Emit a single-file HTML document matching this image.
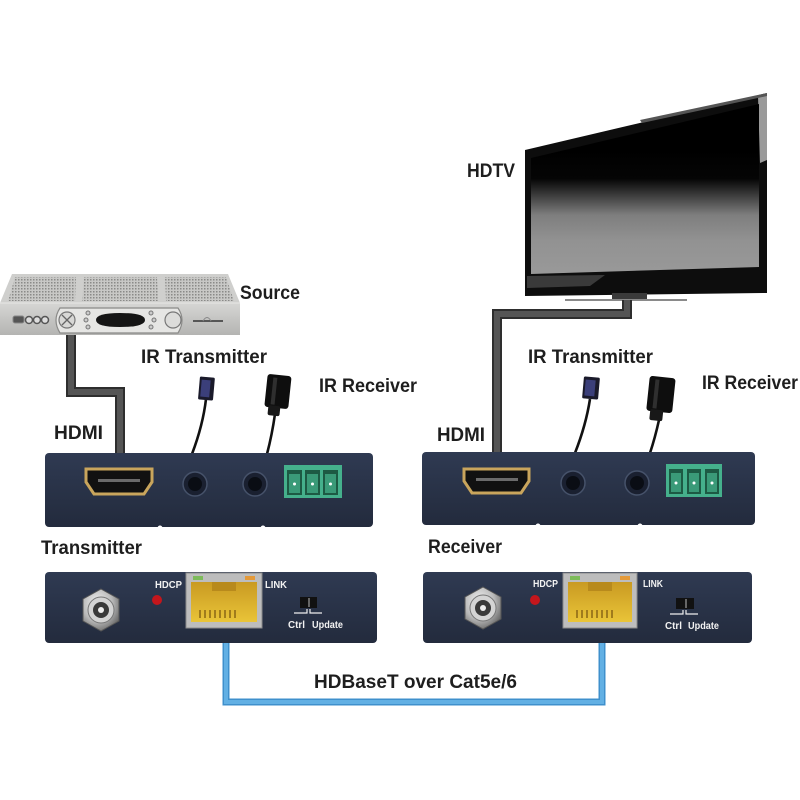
<!DOCTYPE html>
<html><head><meta charset="utf-8"><style>
html,body{margin:0;padding:0;background:#fff;}
svg{display:block;}
.lb{font-family:"Liberation Sans",sans-serif;font-weight:bold;fill:#1e1e1e;font-size:19px;}
.sm{font-family:"Liberation Sans",sans-serif;font-weight:bold;fill:#f2f2f2;font-size:10px;}
</style></head><body>
<svg width="800" height="800" viewBox="0 0 800 800" xmlns="http://www.w3.org/2000/svg">
<defs>
 <linearGradient id="scr" x1="0" y1="150" x2="0" y2="280" gradientUnits="userSpaceOnUse">
  <stop offset="0" stop-color="#000"/>
  <stop offset="0.22" stop-color="#050505"/>
  <stop offset="0.5" stop-color="#7e7e7e"/>
  <stop offset="0.7" stop-color="#929292"/>
  <stop offset="1" stop-color="#9a9a9a"/>
 </linearGradient>
 <linearGradient id="dev" x1="0" y1="0" x2="0" y2="1">
  <stop offset="0" stop-color="#2f3a52"/>
  <stop offset="1" stop-color="#232b3d"/>
 </linearGradient>
 <linearGradient id="front" x1="0" y1="0" x2="0" y2="1">
  <stop offset="0" stop-color="#d6d6d4"/>
  <stop offset="1" stop-color="#b4b4b2"/>
 </linearGradient>
 <linearGradient id="yel" x1="0" y1="0" x2="0" y2="1">
  <stop offset="0" stop-color="#c99a22"/>
  <stop offset="1" stop-color="#e9c438"/>
 </linearGradient>
 <radialGradient id="silver" cx="0.4" cy="0.35" r="0.7">
  <stop offset="0" stop-color="#f4f4f4"/>
  <stop offset="0.6" stop-color="#b8b8b8"/>
  <stop offset="1" stop-color="#6a6a6a"/>
 </radialGradient>
 <pattern id="vent" width="3" height="3" patternUnits="userSpaceOnUse">
  <rect width="3" height="3" fill="#c8c8c6"/>
  <rect width="1.5" height="1.5" fill="#8a8a88"/>
 </pattern>
</defs>

<!-- ===== SOURCE BOX ===== -->
<polygon points="12,274 228,274 240,303 0,303" fill="#cfcfcd"/>
<polygon points="15,277 76,277 75,301 8,301" fill="url(#vent)"/>
<polygon points="84,277 157,277 158,301 82,301" fill="url(#vent)"/>
<polygon points="165,277 226,277 234,301 166,301" fill="url(#vent)"/>
<rect x="0" y="303" width="240" height="32" fill="url(#front)"/>
<line x1="0" y1="303" x2="240" y2="303" stroke="#e8e8e6" stroke-width="1"/>
<rect x="13" y="316" width="11" height="7" rx="2" fill="#555" stroke="#888"/>
<circle cx="29" cy="320" r="3.5" fill="#ddd" stroke="#555" stroke-width="1.5"/>
<circle cx="37" cy="320" r="3.5" fill="#ddd" stroke="#555" stroke-width="1.5"/>
<circle cx="45" cy="320" r="3.5" fill="#ddd" stroke="#555" stroke-width="1.5"/>
<path d="M60,308 H178 Q186,320 178,333 H60 Q52,320 60,308 Z" fill="#e6e6e4" stroke="#8a8a88" stroke-width="1.2"/>
<circle cx="67" cy="320" r="8" fill="#d8d8d6" stroke="#777" stroke-width="1.2"/>
<path d="M62,315 L72,325 M72,315 L62,325" stroke="#666" stroke-width="1.3"/>
<path d="M96,320 Q96,313 120,313 Q145,313 145,320 Q145,327 120,327 Q96,327 96,320 Z" fill="#151515"/>
<circle cx="88" cy="313" r="2" fill="#ccc" stroke="#777"/>
<circle cx="86" cy="320" r="2" fill="#ccc" stroke="#777"/>
<circle cx="88" cy="327" r="2" fill="#ccc" stroke="#777"/>
<circle cx="151" cy="313" r="2" fill="#ccc" stroke="#777"/>
<circle cx="154" cy="320" r="2" fill="#ccc" stroke="#777"/>
<circle cx="151" cy="327" r="2" fill="#ccc" stroke="#777"/>
<circle cx="173" cy="320" r="8" fill="#dcdcda" stroke="#777" stroke-width="1.2"/>
<line x1="193" y1="321" x2="223" y2="321" stroke="#333" stroke-width="1.5"/>
<path d="M203,321 Q207,314 211,321" fill="none" stroke="#888" stroke-width="1"/>

<!-- ===== TV ===== -->
<polygon points="525,150 767,93 767,293 525,296" fill="#0d0d0d"/>
<polygon points="758,96 767,93 767,160 760,163" fill="#9a9a9a"/>
<polygon points="640,120 767,93 767,96 642,123" fill="#555"/>
<polygon points="531,158 759,104 759,267 531,274" fill="url(#scr)"/>
<polygon points="527,276 605,275 590,286 527,288" fill="#3a3a3a"/>
<rect x="612" y="293" width="35" height="7" fill="#3a3a3a"/>
<rect x="565" y="299" width="122" height="2" fill="#8a8a8a"/>

<!-- ===== HDMI CABLES ===== -->
<path d="M71,335 V392 H120 V454" fill="none" stroke="#2e2e2e" stroke-width="10"/>
<path d="M71,335 V392 H120 V454" fill="none" stroke="#555" stroke-width="6"/>
<path d="M627,300 V314 H497 V453" fill="none" stroke="#2e2e2e" stroke-width="10"/>
<path d="M627,300 V314 H497 V453" fill="none" stroke="#555" stroke-width="6"/>

<!-- ===== BLUE CABLE ===== -->
<path d="M226,643 V702 H602 V643" fill="none" stroke="#3f90cc" stroke-width="7"/>
<path d="M226,643 V702 H602 V643" fill="none" stroke="#62b0e4" stroke-width="4"/>

<!-- ===== IR DEVICES (left) ===== -->
<path d="M206,399 Q203,425 192,454" fill="none" stroke="#111" stroke-width="2.6"/>
<rect x="199" y="377" width="15" height="23" rx="1.5" fill="#1a1a2a" transform="rotate(5 206 388)"/>
<rect x="201" y="380" width="9" height="17" fill="#3b3f7a" transform="rotate(5 206 388)"/>
<path d="M275,414 Q272,435 267,454" fill="none" stroke="#111" stroke-width="2.6"/>
<rect x="266" y="375" width="24" height="33" rx="3" fill="#0e0e0e" transform="rotate(6 278 391)"/>
<rect x="272" y="378" width="4" height="27" fill="#2f2f2f" transform="rotate(6 278 391)"/>
<rect x="270" y="406" width="12" height="10" rx="2" fill="#181818" transform="rotate(6 278 391)"/>

<!-- ===== IR DEVICES (right) ===== -->
<path d="M590,399 Q586,425 575,453" fill="none" stroke="#111" stroke-width="2.6"/>
<rect x="583" y="377" width="16" height="22" rx="1.5" fill="#1a1a2a" transform="rotate(5 591 388)"/>
<rect x="585" y="380" width="10" height="16" fill="#3b3f7a" transform="rotate(5 591 388)"/>
<path d="M659,420 Q655,438 650,453" fill="none" stroke="#111" stroke-width="2.6"/>
<rect x="648" y="377" width="26" height="35" rx="3" fill="#0e0e0e" transform="rotate(6 661 394)"/>
<rect x="654" y="380" width="4" height="29" fill="#2f2f2f" transform="rotate(6 661 394)"/>
<rect x="652" y="410" width="13" height="11" rx="2" fill="#181818" transform="rotate(6 661 394)"/>

<!-- ===== TRANSMITTER TOP UNIT ===== -->
<rect x="45" y="453" width="328" height="74" rx="4" fill="url(#dev)"/>
<circle cx="160" cy="528" r="2.5" fill="#fff"/>
<circle cx="263" cy="528" r="2.5" fill="#fff"/>
<path d="M86,469 H152 V482 L144,494 H94 L86,482 Z" fill="#111" stroke="#c9a55c" stroke-width="3"/>
<rect x="98" y="479" width="42" height="3" fill="#6b6b6b"/>
<circle cx="195" cy="484" r="12" fill="#1a2030" stroke="#46526a" stroke-width="1.5"/>
<circle cx="195" cy="484" r="7" fill="#0a0d14"/>
<circle cx="255" cy="484" r="12" fill="#1a2030" stroke="#46526a" stroke-width="1.5"/>
<circle cx="255" cy="484" r="7" fill="#0a0d14"/>
<g>
 <rect x="284" y="465" width="58" height="33" fill="#45b08c"/>
 <rect x="287" y="470" width="15" height="25" fill="#1d5a44"/>
 <rect x="289" y="474" width="11" height="19" fill="#3a9a78"/>
 <circle cx="294.5" cy="484" r="1.5" fill="#fff"/>
 <rect x="305" y="470" width="15" height="25" fill="#1d5a44"/>
 <rect x="307" y="474" width="11" height="19" fill="#3a9a78"/>
 <circle cx="312.5" cy="484" r="1.5" fill="#fff"/>
 <rect x="323" y="470" width="15" height="25" fill="#1d5a44"/>
 <rect x="325" y="474" width="11" height="19" fill="#3a9a78"/>
 <circle cx="330.5" cy="484" r="1.5" fill="#fff"/>
</g>

<!-- ===== RECEIVER TOP UNIT ===== -->
<rect x="422" y="452" width="333" height="73" rx="4" fill="url(#dev)"/>
<circle cx="538" cy="526" r="2.5" fill="#fff"/>
<circle cx="640" cy="526" r="2.5" fill="#fff"/>
<path d="M464,469 H529 V481 L521,493 H472 L464,481 Z" fill="#111" stroke="#c9a55c" stroke-width="3"/>
<rect x="476" y="478" width="42" height="3" fill="#6b6b6b"/>
<circle cx="573" cy="483" r="12" fill="#1a2030" stroke="#46526a" stroke-width="1.5"/>
<circle cx="573" cy="483" r="7" fill="#0a0d14"/>
<circle cx="637" cy="483" r="12" fill="#1a2030" stroke="#46526a" stroke-width="1.5"/>
<circle cx="637" cy="483" r="7" fill="#0a0d14"/>
<g>
 <rect x="666" y="464" width="56" height="33" fill="#45b08c"/>
 <rect x="669" y="469" width="14" height="25" fill="#1d5a44"/>
 <rect x="671" y="473" width="10" height="19" fill="#3a9a78"/>
 <circle cx="676" cy="483" r="1.5" fill="#fff"/>
 <rect x="687" y="469" width="14" height="25" fill="#1d5a44"/>
 <rect x="689" y="473" width="10" height="19" fill="#3a9a78"/>
 <circle cx="694" cy="483" r="1.5" fill="#fff"/>
 <rect x="705" y="469" width="14" height="25" fill="#1d5a44"/>
 <rect x="707" y="473" width="10" height="19" fill="#3a9a78"/>
 <circle cx="712" cy="483" r="1.5" fill="#fff"/>
</g>

<!-- ===== TRANSMITTER BOTTOM UNIT ===== -->
<rect x="45" y="572" width="332" height="71" rx="4" fill="url(#dev)"/>
<polygon points="101,589 119,599 119,621 101,631 83,621 83,599" fill="url(#silver)" stroke="#555" stroke-width="1"/>
<circle cx="101" cy="610" r="13" fill="#d4d4d4" stroke="#777"/>
<circle cx="101" cy="610" r="8" fill="#3a3a3a"/>
<circle cx="101" cy="610" r="3" fill="#eee"/>
<circle cx="157" cy="600" r="5" fill="#c4161c"/>
<rect x="186" y="573" width="76" height="55" fill="#bdbdbd" stroke="#8a8a8a"/>
<rect x="191" y="582" width="66" height="40" fill="url(#yel)"/>
<rect x="212" y="582" width="24" height="9" fill="#b88a1c"/>
<rect x="193" y="576" width="10" height="4" fill="#7dbb5a"/>
<rect x="245" y="576" width="10" height="4" fill="#e49a3a"/>
<path d="M200,610 V618 M205,610 V618 M210,610 V618 M215,610 V618 M220,610 V618 M225,610 V618 M230,610 V618 M235,610 V618" stroke="#8a6614" stroke-width="1.5"/>
<rect x="300" y="597" width="17" height="11" fill="#111"/>
<rect x="308" y="598" width="2" height="9" fill="#666"/>
<path d="M294,613 H307 V609 M322,613 H310 V609" fill="none" stroke="#eee" stroke-width="1.2"/>

<!-- ===== RECEIVER BOTTOM UNIT ===== -->
<rect x="423" y="572" width="329" height="71" rx="4" fill="url(#dev)"/>
<polygon points="483,587 501,597 501,619 483,629 465,619 465,597" fill="url(#silver)" stroke="#555" stroke-width="1"/>
<circle cx="483" cy="608" r="13" fill="#d4d4d4" stroke="#777"/>
<circle cx="483" cy="608" r="8" fill="#3a3a3a"/>
<circle cx="483" cy="608" r="3" fill="#eee"/>
<circle cx="535" cy="600" r="5" fill="#c4161c"/>
<rect x="563" y="573" width="74" height="55" fill="#bdbdbd" stroke="#8a8a8a"/>
<rect x="568" y="582" width="64" height="40" fill="url(#yel)"/>
<rect x="588" y="582" width="24" height="9" fill="#b88a1c"/>
<rect x="570" y="576" width="10" height="4" fill="#7dbb5a"/>
<rect x="620" y="576" width="10" height="4" fill="#e49a3a"/>
<path d="M577,610 V618 M582,610 V618 M587,610 V618 M592,610 V618 M597,610 V618 M602,610 V618 M607,610 V618 M612,610 V618" stroke="#8a6614" stroke-width="1.5"/>
<rect x="676" y="598" width="18" height="11" fill="#111"/>
<rect x="685" y="599" width="2" height="9" fill="#666"/>
<path d="M670,614 H683 V610 M698,614 H686 V610" fill="none" stroke="#eee" stroke-width="1.2"/>

<!-- ===== LABELS ===== -->
<text class="lb" x="240" y="299" textLength="60" lengthAdjust="spacingAndGlyphs">Source</text>
<text class="lb" x="467" y="177" textLength="48" lengthAdjust="spacingAndGlyphs">HDTV</text>
<text class="lb" x="141" y="363" textLength="126" lengthAdjust="spacingAndGlyphs">IR Transmitter</text>
<text class="lb" x="319" y="392" textLength="98" lengthAdjust="spacingAndGlyphs">IR Receiver</text>
<text class="lb" x="54" y="439" textLength="49" lengthAdjust="spacingAndGlyphs">HDMI</text>
<text class="lb" x="41" y="554" textLength="101" lengthAdjust="spacingAndGlyphs">Transmitter</text>
<text class="lb" x="528" y="363" textLength="125" lengthAdjust="spacingAndGlyphs">IR Transmitter</text>
<text class="lb" x="702" y="389" textLength="96" lengthAdjust="spacingAndGlyphs">IR Receiver</text>
<text class="lb" x="437" y="441" textLength="48" lengthAdjust="spacingAndGlyphs">HDMI</text>
<text class="lb" x="428" y="553" textLength="74" lengthAdjust="spacingAndGlyphs">Receiver</text>
<text class="lb" x="314" y="688" textLength="203" lengthAdjust="spacingAndGlyphs">HDBaseT over Cat5e/6</text>

<text class="sm" x="155" y="588" textLength="27" lengthAdjust="spacingAndGlyphs">HDCP</text>
<text class="sm" x="265" y="588" textLength="22" lengthAdjust="spacingAndGlyphs">LINK</text>
<text class="sm" x="288" y="628" textLength="17" lengthAdjust="spacingAndGlyphs">Ctrl</text>
<text class="sm" x="312" y="628" textLength="31" lengthAdjust="spacingAndGlyphs">Update</text>

<text class="sm" x="533" y="587" textLength="25" lengthAdjust="spacingAndGlyphs">HDCP</text>
<text class="sm" x="643" y="587" textLength="20" lengthAdjust="spacingAndGlyphs">LINK</text>
<text class="sm" x="665" y="629" textLength="17" lengthAdjust="spacingAndGlyphs">Ctrl</text>
<text class="sm" x="688" y="629" textLength="31" lengthAdjust="spacingAndGlyphs">Update</text>
</svg>
</body></html>
